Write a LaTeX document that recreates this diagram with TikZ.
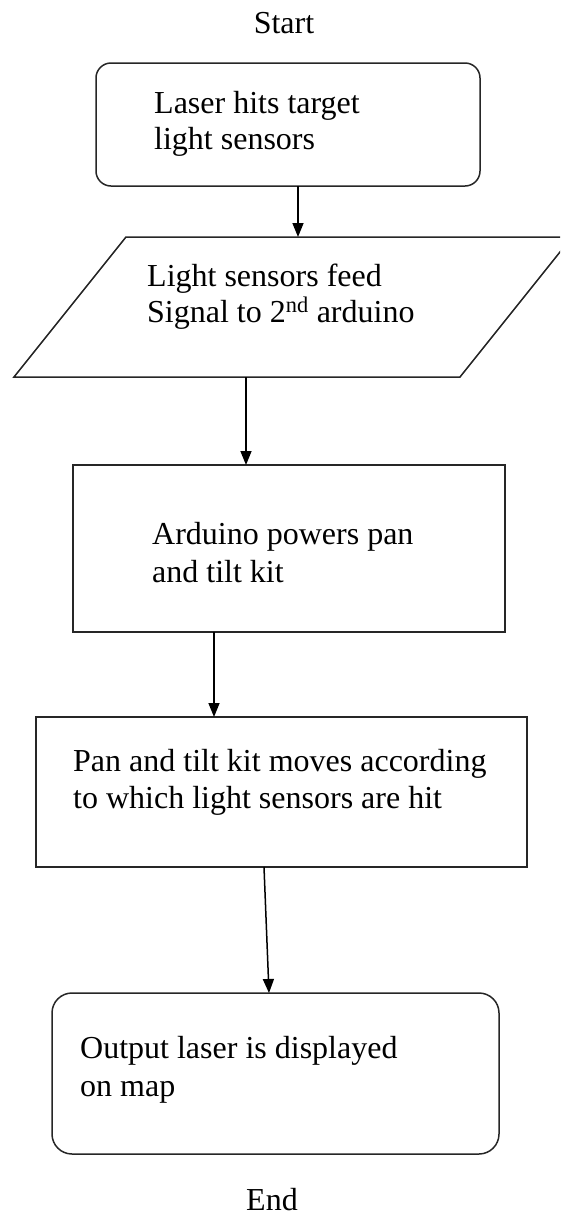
\documentclass[tikz,border=0pt]{standalone}
\usepackage{fontspec}
\setmainfont{Liberation Serif}
\usetikzlibrary{arrows.meta}
\begin{document}
\begin{tikzpicture}[x=1pt,y=-1pt,
  shp/.style={draw=black!85, line width=1.5pt, inner sep=0pt, outer sep=0pt},
  sbox/.style={shp, rectangle},
  rbox/.style={shp, rectangle, rounded corners=#1},
  txt/.style={anchor=base west, inner sep=0pt, font=\fontsize{32}{37}\selectfont},
  lbl/.style={anchor=base, inner sep=0pt, font=\fontsize{32}{37}\selectfont},
  arr/.style={draw=black, line width=1.5pt, -{Triangle[length=14pt,width=11pt]}}
]
\clip (0,0) rectangle (560,1216);
\fill[white] (0,0) rectangle (560,1216);

\node[lbl] (start) at (284,33) {Start};

\node[rbox=15pt, minimum width=384pt, minimum height=123pt] (b1) at (288,124.5) {};
\node[txt] (t1a) at (154,113) {Laser hits target};
\node[txt] (t1b) at (154,149) {light sensors};

% parallelogram (input/output)
\coordinate (ptl) at (126,237);
\coordinate (ptr) at (572,237);
\coordinate (pbr) at (460,377);
\coordinate (pbl) at (14,377);
\draw[shp, line join=miter] (ptl) -- (ptr) -- (pbr) -- (pbl) -- cycle;
\coordinate (ptop) at (293,237);
\coordinate (pbot) at (293,377);
\node[txt] (t2a) at (147,286) {Light sensors feed};
\node[txt] (t2b) at (147,322) {Signal to 2\textsuperscript{nd} arduino};

\node[sbox, minimum width=432pt, minimum height=167pt] (b3) at (289,548.5) {};
\node[txt] (t3a) at (152,544) {Arduino powers pan};
\node[txt] (t3b) at (152,582) {and tilt kit};

\node[sbox, minimum width=491pt, minimum height=150pt] (b4) at (281.5,792) {};
\node[txt] (t4a) at (73,771) {Pan and tilt kit moves according};
\node[txt] (t4b) at (73,808) {to which light sensors are hit};

\node[rbox=20pt, minimum width=447pt, minimum height=161pt] (b5) at (275.5,1073.5) {};
\node[txt] (t5a) at (80,1058) {Output laser is displayed};
\node[txt] (t5b) at (80,1096) {on map};

\node[lbl] (end) at (272,1210) {End};

\coordinate (a1) at (298,0);
\coordinate (a2) at (246,0);
\coordinate (a3) at (214,0);
\coordinate (a4s) at (264,0);
\coordinate (a4e) at (269,0);

\draw[arr] (b1.south -| a1) -- (ptop -| a1);
\draw[arr] (pbot -| a2) -- (b3.north -| a2);
\draw[arr] (b3.south -| a3) -- (b4.north -| a3);
\draw[arr] (b4.south -| a4s) -- (b5.north -| a4e);
\end{tikzpicture}
\end{document}
